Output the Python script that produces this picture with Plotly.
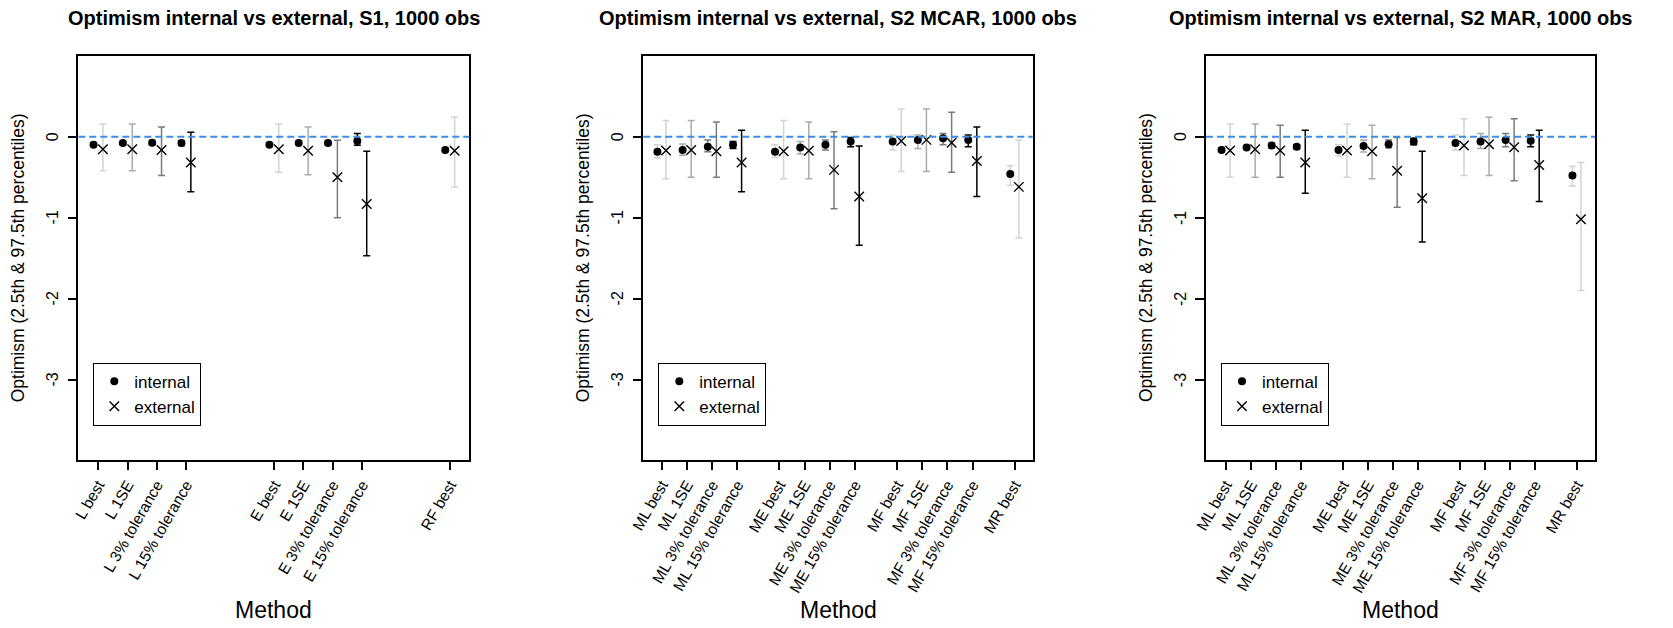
import plotly.graph_objects as go

# ---------------- data ----------------
titles = [
    "Optimism internal vs external, S1, 1000 obs",
    "Optimism internal vs external, S2 MCAR, 1000 obs",
    "Optimism internal vs external, S2 MAR, 1000 obs",
]

methods_s1 = ["L best", "L 1SE", "L 3% tolerance", "L 15% tolerance",
              "E best", "E 1SE", "E 3% tolerance", "E 15% tolerance", "RF best"]
groups_s1 = [4, 4, 1]
level_s1 = [0, 1, 2, 3, 0, 1, 2, 3, 0]
int_mean_s1 = [-0.10, -0.08, -0.075, -0.08, -0.10, -0.08, -0.08, -0.055, -0.165]
int_lo_s1 = [-0.12, -0.10, -0.10, -0.11, -0.12, -0.105, -0.10, -0.105, -0.20]
int_hi_s1 = [-0.07, -0.06, -0.05, -0.05, -0.08, -0.055, -0.06, 0.04, -0.13]
ext_mean_s1 = [-0.155, -0.155, -0.165, -0.32, -0.155, -0.175, -0.50, -0.83, -0.175]
ext_lo_s1 = [-0.42, -0.42, -0.48, -0.68, -0.44, -0.47, -1.00, -1.47, -0.62]
ext_hi_s1 = [0.155, 0.155, 0.12, 0.055, 0.155, 0.12, -0.045, -0.18, 0.24]

methods_s2 = ["ML best", "ML 1SE", "ML 3% tolerance", "ML 15% tolerance",
              "ME best", "ME 1SE", "ME 3% tolerance", "ME 15% tolerance",
              "MF best", "MF 1SE", "MF 3% tolerance", "MF 15% tolerance", "MR best"]
groups_s2 = [4, 4, 4, 1]
level_s2 = [0, 1, 2, 3, 0, 1, 2, 3, 0, 1, 2, 3, 0]

int_mean_mcar = [-0.185, -0.165, -0.125, -0.10, -0.185, -0.135, -0.10, -0.06, -0.06, -0.04, -0.02, -0.04, -0.46]
int_lo_mcar = [-0.26, -0.23, -0.185, -0.145, -0.26, -0.215, -0.165, -0.125, -0.165, -0.145, -0.10, -0.125, -0.60]
int_hi_mcar = [-0.10, -0.09, -0.04, -0.06, -0.10, -0.06, -0.04, -0.01, 0.02, 0.02, 0.04, 0.02, -0.36]
ext_mean_mcar = [-0.17, -0.165, -0.18, -0.32, -0.18, -0.175, -0.41, -0.74, -0.055, -0.04, -0.075, -0.30, -0.62]
ext_lo_mcar = [-0.52, -0.50, -0.50, -0.68, -0.52, -0.52, -0.89, -1.34, -0.43, -0.43, -0.44, -0.74, -1.25]
ext_hi_mcar = [0.20, 0.20, 0.18, 0.08, 0.20, 0.18, 0.06, -0.115, 0.34, 0.34, 0.30, 0.12, -0.04]

int_mean_mar = [-0.165, -0.135, -0.11, -0.125, -0.165, -0.115, -0.095, -0.06, -0.08, -0.06, -0.04, -0.05, -0.48]
int_lo_mar = [-0.19, -0.16, -0.14, -0.15, -0.24, -0.19, -0.14, -0.10, -0.165, -0.145, -0.125, -0.125, -0.61]
int_hi_mar = [-0.13, -0.11, -0.08, -0.10, -0.10, -0.04, -0.04, -0.02, 0.02, 0.04, 0.04, 0.02, -0.37]
ext_mean_mar = [-0.17, -0.155, -0.17, -0.32, -0.17, -0.18, -0.42, -0.76, -0.11, -0.095, -0.13, -0.35, -1.02]
ext_lo_mar = [-0.50, -0.50, -0.50, -0.70, -0.50, -0.52, -0.87, -1.30, -0.48, -0.48, -0.545, -0.80, -1.90]
ext_hi_mar = [0.155, 0.155, 0.14, 0.08, 0.155, 0.14, -0.01, -0.18, 0.22, 0.24, 0.22, 0.08, -0.32]

y_ticks = [-3, -2, -1, 0]
reference_value = 0

# ---------------- styling / layout ----------------
PAGE_W, PAGE_H = 1673, 628
BODY = 8                      # default browser body margin around the figure
W, H = PAGE_W - BODY, PAGE_H - BODY
FONT = "Liberation Sans, Arial, sans-serif"
level_colors = ["#d3d3d3", "#ababab", "#7a7a7a", "#000000"]
zero_color = "#3a8ee6"


def px(xp):
    return (xp - BODY) / W


def py(yp):
    return 1 - (yp - BODY) / H


panels = [
    dict(methods=methods_s1, groups=groups_s1, level=level_s1, stride=6.0, off=0.16,
         im=int_mean_s1, il=int_lo_s1, ih=int_hi_s1,
         em=ext_mean_s1, el=ext_lo_s1, eh=ext_hi_s1,
         box=(78.3, 469.3), xr=(-0.68, 12.66)),
    dict(methods=methods_s2, groups=groups_s2, level=level_s2, stride=14 / 3, off=0.17,
         im=int_mean_mcar, il=int_lo_mcar, ih=int_hi_mcar,
         em=ext_mean_mcar, el=ext_lo_mcar, eh=ext_hi_mcar,
         box=(643.3, 1032.7), xr=(-0.73, 14.72)),
    dict(methods=methods_s2, groups=groups_s2, level=level_s2, stride=14 / 3, off=0.17,
         im=int_mean_mar, il=int_lo_mar, ih=int_hi_mar,
         em=ext_mean_mar, el=ext_lo_mar, eh=ext_hi_mar,
         box=(1206.0, 1595.0), xr=(-0.79, 14.73)),
]

box_top, box_bottom = 56.0, 460.0
y_range = [-3.99, 0.995]


def positions(groups, stride):
    pos = []
    for g, n in enumerate(groups):
        for i in range(n):
            pos.append(g * stride + i)
    return pos


fig = go.Figure()
annotations = []
shapes = []

for p_i, p in enumerate(panels):
    k = "" if p_i == 0 else str(p_i + 1)
    xa, ya = "x" + k, "y" + k
    leg = "legend" + k
    pos = positions(p["groups"], p["stride"])
    for lev in range(4):
        idx = [i for i, l in enumerate(p["level"]) if l == lev]
        if not idx:
            continue
        col = level_colors[lev]
        xs = [pos[i] - p["off"] for i in idx]
        ys = [p["im"][i] for i in idx]
        fig.add_trace(go.Scatter(
            x=xs, y=ys, mode="markers", xaxis=xa, yaxis=ya,
            name="internal", legend=leg, showlegend=(lev == 3),
            marker=dict(symbol="circle", size=8, color="black"),
            error_y=dict(type="data", symmetric=False,
                         array=[p["ih"][i] - p["im"][i] for i in idx],
                         arrayminus=[p["im"][i] - p["il"][i] for i in idx],
                         color=col, thickness=1.5, width=3.5),
        ))
        xs = [pos[i] + p["off"] for i in idx]
        ys = [p["em"][i] for i in idx]
        fig.add_trace(go.Scatter(
            x=xs, y=ys, mode="markers", xaxis=xa, yaxis=ya,
            name="external", legend=leg, showlegend=(lev == 3),
            marker=dict(symbol="x-thin", size=9.5, color="black",
                        line=dict(color="black", width=1.4)),
            error_y=dict(type="data", symmetric=False,
                         array=[p["eh"][i] - p["em"][i] for i in idx],
                         arrayminus=[p["em"][i] - p["el"][i] for i in idx],
                         color=col, thickness=1.5, width=3.5),
        ))

    x0, x1 = p["box"]
    fig.layout["xaxis" + k] = dict(
        domain=[px(x0), px(x1)], range=list(p["xr"]), anchor=ya,
        tickmode="array", tickvals=pos, ticktext=p["methods"],
        tickangle=-60, ticks="outside", ticklen=8, tickwidth=1.5, tickcolor="black",
        showline=True, mirror=True, linecolor="black", linewidth=1.5,
        showgrid=False, zeroline=False, automargin=False,
        tickfont=dict(family=FONT, size=15.5, color="black"),
    )
    fig.layout["yaxis" + k] = dict(
        domain=[py(box_bottom), py(box_top)], range=y_range, anchor=xa,
        tickmode="array", tickvals=y_ticks, showticklabels=False,
        ticks="outside", ticklen=9, tickwidth=1.5, tickcolor="black",
        showline=True, mirror=True, linecolor="black", linewidth=1.5,
        showgrid=False, zeroline=False, automargin=False,
    )
    # y tick labels, written vertically as in the original
    for t in y_ticks:
        annotations.append(dict(text=str(t), x=px(x0 - 25.6), y=t,
                                xref="paper", yref=ya, showarrow=False,
                                textangle=-90, xanchor="center", yanchor="middle",
                                font=dict(family=FONT, size=16, color="black")))
    fig.layout[leg] = dict(
        x=px(x0 + 15), y=py(362.7),
        xanchor="left", yanchor="top",
        bordercolor="black", borderwidth=1, bgcolor="white",
        font=dict(family=FONT, size=17, color="black"),
        itemwidth=30, tracegroupgap=0,
    )
    shapes.append(dict(type="line", xref=xa + " domain", yref=ya,
                       x0=0, x1=1, y0=reference_value, y1=reference_value,
                       line=dict(color=zero_color, width=2, dash="7px,4px")))
    cx = (x0 + x1) / 2
    annotations.append(dict(text="<b>" + titles[p_i] + "</b>", x=px(cx), y=py(18),
                            xref="paper", yref="paper", showarrow=False,
                            xanchor="center", yanchor="middle",
                            font=dict(family=FONT, size=20, color="black")))
    annotations.append(dict(text="Optimism (2.5th & 97.5th percentiles)",
                            x=px(x0 - 60), y=py(258), textangle=-90,
                            xref="paper", yref="paper", showarrow=False,
                            xanchor="center", yanchor="middle",
                            font=dict(family=FONT, size=17.5, color="black")))
    annotations.append(dict(text="Method", x=px(cx), y=py(610),
                            xref="paper", yref="paper", showarrow=False,
                            xanchor="center", yanchor="middle",
                            font=dict(family=FONT, size=23, color="black")))

fig.update_layout(
    width=W, height=H, margin=dict(l=0, r=0, t=0, b=0),
    paper_bgcolor="white", plot_bgcolor="white",
    annotations=annotations, shapes=shapes,
    font=dict(family=FONT, color="black"),
)

fig.write_html("out.html")
